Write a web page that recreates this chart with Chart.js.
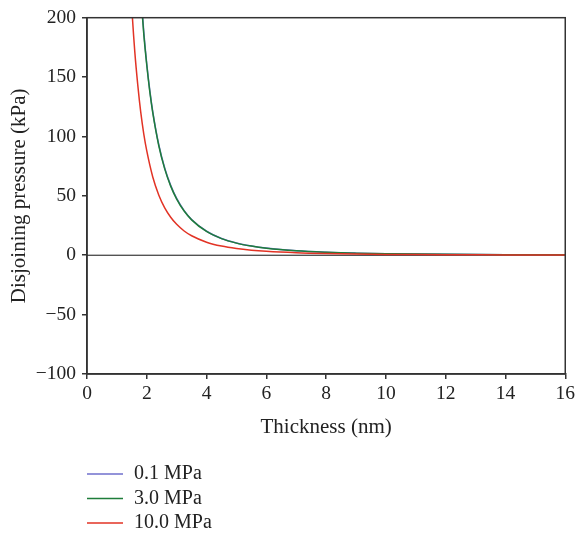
<!DOCTYPE html>
<html>
<head>
<meta charset="utf-8">
<script src="https://cdn.jsdelivr.net/npm/chart.js@4.4.1/dist/chart.umd.min.js"></script>
<style>
  html, body { margin: 0; padding: 0; background: #fff; }
  #wrap { width: 578px; height: 534px; }
</style>
</head>
<body>
<div id="wrap"><canvas id="chart" width="578" height="534"></canvas></div>
<script>
// Thickness (nm) / disjoining pressure (kPa)
const seriesLabels = ['0.1 MPa', '3.0 MPa', '10.0 MPa'];
const seriesColors = ['#6f6fcc', '#1e7d3a', '#e23325'];

const thick01 = [1.75, 1.8, 1.9, 2.0, 2.1, 2.2, 2.4, 2.6, 2.8, 3.0, 3.25, 3.5, 4.0, 4.5, 5.0, 5.5, 6, 7, 8, 9, 10, 11, 12, 13, 14, 15, 16];
const press01 = [241, 221, 188, 161, 139, 121, 93.3, 73.4, 58.8, 47.8, 37.6, 30.1, 20.2, 14.1, 10.3, 7.8, 6.0, 3.75, 2.5, 1.77, 1.29, 0.97, 0.75, 0.59, 0.47, 0.38, 0.31];

const thick30 = [1.75, 1.8, 1.9, 2.0, 2.1, 2.2, 2.4, 2.6, 2.8, 3.0, 3.25, 3.5, 4.0, 4.5, 5.0, 5.5, 6, 7, 8, 9, 10, 11, 12, 13, 14, 15, 16];
const press30 = [238, 219, 186, 160, 138, 120, 92.4, 72.7, 58.2, 47.3, 37.2, 29.8, 20.0, 14.0, 10.2, 7.7, 5.9, 3.7, 2.5, 1.75, 1.28, 0.96, 0.74, 0.58, 0.47, 0.38, 0.31];

const thick100 = [1.4, 1.5, 1.6, 1.7, 1.8, 1.9, 2.0, 2.2, 2.4, 2.6, 2.8, 3.0, 3.25, 3.5, 4.0, 4.5, 5.0, 5.5, 6, 7, 8, 9, 10, 11, 12, 13, 14, 15, 16];
const press100 = [256, 208, 171, 143, 120, 102, 87.8, 65.9, 50.8, 39.9, 32.0, 26.0, 20.4, 16.4, 11.0, 7.7, 5.6, 4.2, 3.25, 2.05, 1.37, 0.96, 0.70, 0.53, 0.41, 0.32, 0.26, 0.21, 0.17];

const xTitle = 'Thickness (nm)';
const yTitle = 'Disjoining pressure (kPa)';

const FONT = '"Liberation Serif", "DejaVu Serif", serif';
const AXIS = '#333333';

function toPoints(xs, ys) {
  return xs.map((x, i) => ({ x: x, y: ys[i] }));
}

// frame, zero line, axis titles and the legend block below the plot
const decorations = {
  id: 'decorations',
  beforeDatasetsDraw(chart) {
    const { ctx, chartArea: a, scales } = chart;
    const y0 = scales.y.getPixelForValue(0);
    ctx.save();
    ctx.strokeStyle = '#111';
    ctx.lineWidth = 1;
    ctx.beginPath();
    ctx.moveTo(a.left, y0);
    ctx.lineTo(a.right, y0);
    ctx.stroke();
    ctx.restore();
  },
  afterDraw(chart) {
    const { ctx, chartArea: a } = chart;
    ctx.save();
    ctx.strokeStyle = AXIS;
    ctx.lineWidth = 1.5;
    ctx.strokeRect(a.left, a.top, a.right - a.left, a.bottom - a.top);

    ctx.fillStyle = '#222';
    ctx.font = '21px ' + FONT;
    ctx.textAlign = 'center';
    ctx.textBaseline = 'middle';
    ctx.fillText(xTitle, (a.left + a.right) / 2, 427);

    ctx.translate(19, (a.top + a.bottom) / 2);
    ctx.rotate(-Math.PI / 2);
    ctx.fillText(yTitle, 0, 0);
    ctx.restore();

    // legend
    ctx.save();
    ctx.font = '20px ' + FONT;
    ctx.textAlign = 'left';
    ctx.textBaseline = 'middle';
    chart.data.datasets.forEach((ds, i) => {
      const y = 474 + i * 24.5;
      ctx.strokeStyle = ds.borderColor;
      ctx.lineWidth = 1.5;
      ctx.beginPath();
      ctx.moveTo(87, y);
      ctx.lineTo(123, y);
      ctx.stroke();
      ctx.fillStyle = '#222';
      ctx.fillText(ds.label, 134, y);
    });
    ctx.restore();
  }
};

// lower order is drawn on top: red, then green, blue underneath
const drawOrder = [2, 1, 0];

const datasets = [
  { label: seriesLabels[0], data: toPoints(thick01, press01), borderColor: seriesColors[0] },
  { label: seriesLabels[1], data: toPoints(thick30, press30), borderColor: seriesColors[1] },
  { label: seriesLabels[2], data: toPoints(thick100, press100), borderColor: seriesColors[2] }
].map((ds, i) => Object.assign(ds, {
  order: drawOrder[i],
  borderWidth: 1.5,
  pointRadius: 0,
  fill: false,
  cubicInterpolationMode: 'monotone'
}));

new Chart(document.getElementById('chart'), {
  type: 'line',
  data: { datasets: datasets },
  options: {
    responsive: false,
    animation: false,
    layout: { padding: { top: 16, right: 11, bottom: 110, left: 0 } },
    plugins: {
      legend: { display: false },
      tooltip: { enabled: false }
    },
    scales: {
      x: {
        type: 'linear',
        min: 0,
        max: 16,
        afterFit: (s) => { s.height = 50; },
        grid: { drawOnChartArea: false, drawTicks: true, tickLength: 5, color: AXIS, lineWidth: 1.5 },
        border: { display: true, color: AXIS, width: 1.5 },
        ticks: {
          stepSize: 2,
          padding: 3,
          color: '#222',
          font: { family: FONT, size: 19.5 }
        }
      },
      y: {
        min: -100,
        max: 200,
        afterFit: (s) => { s.width = 87; },
        grid: { drawOnChartArea: false, drawTicks: true, tickLength: 5, color: AXIS, lineWidth: 1.5 },
        border: { display: true, color: AXIS, width: 1.5 },
        ticks: {
          stepSize: 50,
          padding: 6,
          color: '#222',
          font: { family: FONT, size: 19.5 },
          callback: (v) => v < 0 ? '\u2212' + Math.abs(v) : String(v)
        }
      }
    }
  },
  plugins: [decorations]
});
</script>
</body>
</html>
